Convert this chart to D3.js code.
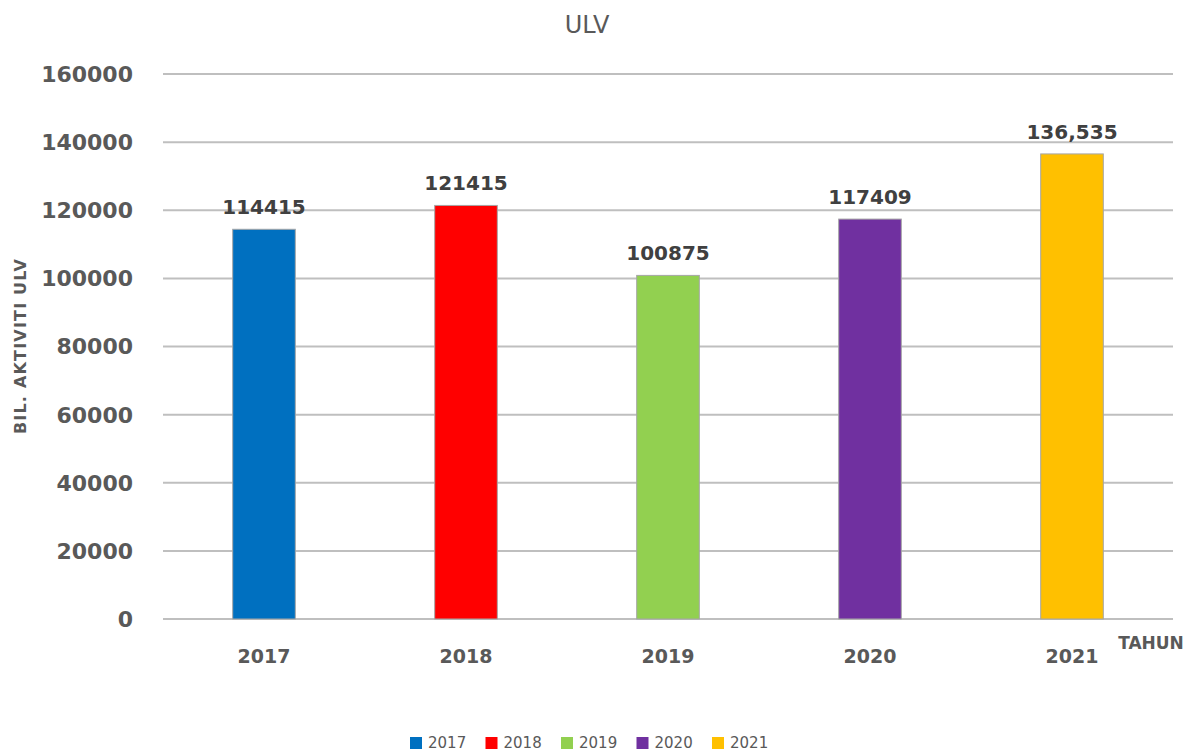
<!DOCTYPE html>
<html>
<head>
	<meta charset="utf-8">
	<title>ULV</title>
	<script src="https://cdn.jsdelivr.net/npm/d3@7"></script>
	<style>
		body { margin: 0; background: #fff; font-family: "DejaVu Sans", "Liberation Sans", Arial, sans-serif; }
	</style>
</head>
<body>
	<div id="chart"></div>
	<script>

	// data
	const years  = ["2017", "2018", "2019", "2020", "2021"];
	const values = [114415, 121415, 100875, 117409, 136535];
	const labels = ["114415", "121415", "100875", "117409", "136,535"];
	const colors = ["#0070C0", "#FF0000", "#92D050", "#7030A0", "#FFC000"];
	const yTicks = [0, 20000, 40000, 60000, 80000, 100000, 120000, 140000, 160000];

	const width  = 1195;
	const height = 753;
	const margin = { top: 74, right: 22, bottom: 134, left: 163 };

	const svg = d3.select("#chart")
		.append("svg")
		.attr("width", width)
		.attr("height", height);

	const x = d3.scaleBand()
		.domain(years)
		.range([margin.left, width - margin.right])
		.paddingInner(0.69)
		.paddingOuter(0.345);

	const y = d3.scaleLinear()
		.domain([0, 160000])
		.range([height - margin.bottom, margin.top]);

	// gridlines
	svg.append("g")
		.selectAll("line")
		.data(yTicks)
		.join("line")
		.attr("x1", margin.left)
		.attr("x2", width - margin.right)
		.attr("y1", d => y(d))
		.attr("y2", d => y(d))
		.attr("stroke", "#bfbfbf")
		.attr("stroke-width", 2);

	// y tick labels
	svg.append("g")
		.selectAll("text")
		.data(yTicks)
		.join("text")
		.attr("x", 133)
		.attr("y", d => y(d))
		.attr("dy", "0.36em")
		.attr("text-anchor", "end")
		.attr("font-size", 22)
		.attr("font-weight", "bold")
		.attr("fill", "#595959")
		.text(d => d);

	// bars
	svg.append("g")
		.selectAll("rect")
		.data(values)
		.join("rect")
		.attr("x", (d, i) => x(years[i]))
		.attr("y", d => y(d))
		.attr("width", x.bandwidth())
		.attr("height", d => y(0) - y(d))
		.attr("fill", (d, i) => colors[i])
		.attr("stroke", "#a6a6a6")
		.attr("stroke-width", 1);

	// value labels
	svg.append("g")
		.selectAll("text")
		.data(values)
		.join("text")
		.attr("x", (d, i) => x(years[i]) + x.bandwidth() / 2)
		.attr("y", d => y(d) - 15)
		.attr("text-anchor", "middle")
		.attr("font-size", 20)
		.attr("font-weight", "bold")
		.attr("fill", "#404040")
		.text((d, i) => labels[i]);

	// x labels
	svg.append("g")
		.selectAll("text")
		.data(years)
		.join("text")
		.attr("x", d => x(d) + x.bandwidth() / 2)
		.attr("y", 663)
		.attr("text-anchor", "middle")
		.attr("font-size", 19)
		.attr("font-weight", "bold")
		.attr("fill", "#595959")
		.text(d => d);

	// title
	svg.append("text")
		.attr("x", 587)
		.attr("y", 33)
		.attr("text-anchor", "middle")
		.attr("font-size", 24)
		.attr("fill", "#595959")
		.text("ULV");

	// axis titles
	svg.append("text")
		.attr("transform", "translate(26,346) rotate(-90)")
		.attr("text-anchor", "middle")
		.attr("font-size", 16)
		.attr("font-weight", "bold")
		.attr("letter-spacing", 1.2)
		.attr("fill", "#595959")
		.text("BIL. AKTIVITI ULV");

	svg.append("text")
		.attr("x", 1151)
		.attr("y", 649)
		.attr("text-anchor", "middle")
		.attr("font-size", 17)
		.attr("font-weight", "bold")
		.attr("fill", "#595959")
		.text("TAHUN");

	// legend
	const legend = svg.append("g")
		.selectAll("g")
		.data(years)
		.join("g")
		.attr("transform", (d, i) => `translate(${410 + i * 75.5},743)`);

	legend.append("rect")
		.attr("x", 0)
		.attr("y", -6)
		.attr("width", 12)
		.attr("height", 12)
		.attr("fill", (d, i) => colors[i]);

	legend.append("text")
		.attr("x", 18)
		.attr("y", 0)
		.attr("dy", "0.36em")
		.attr("font-size", 15)
		.attr("fill", "#595959")
		.text(d => d);

	</script>
</body>
</html>
